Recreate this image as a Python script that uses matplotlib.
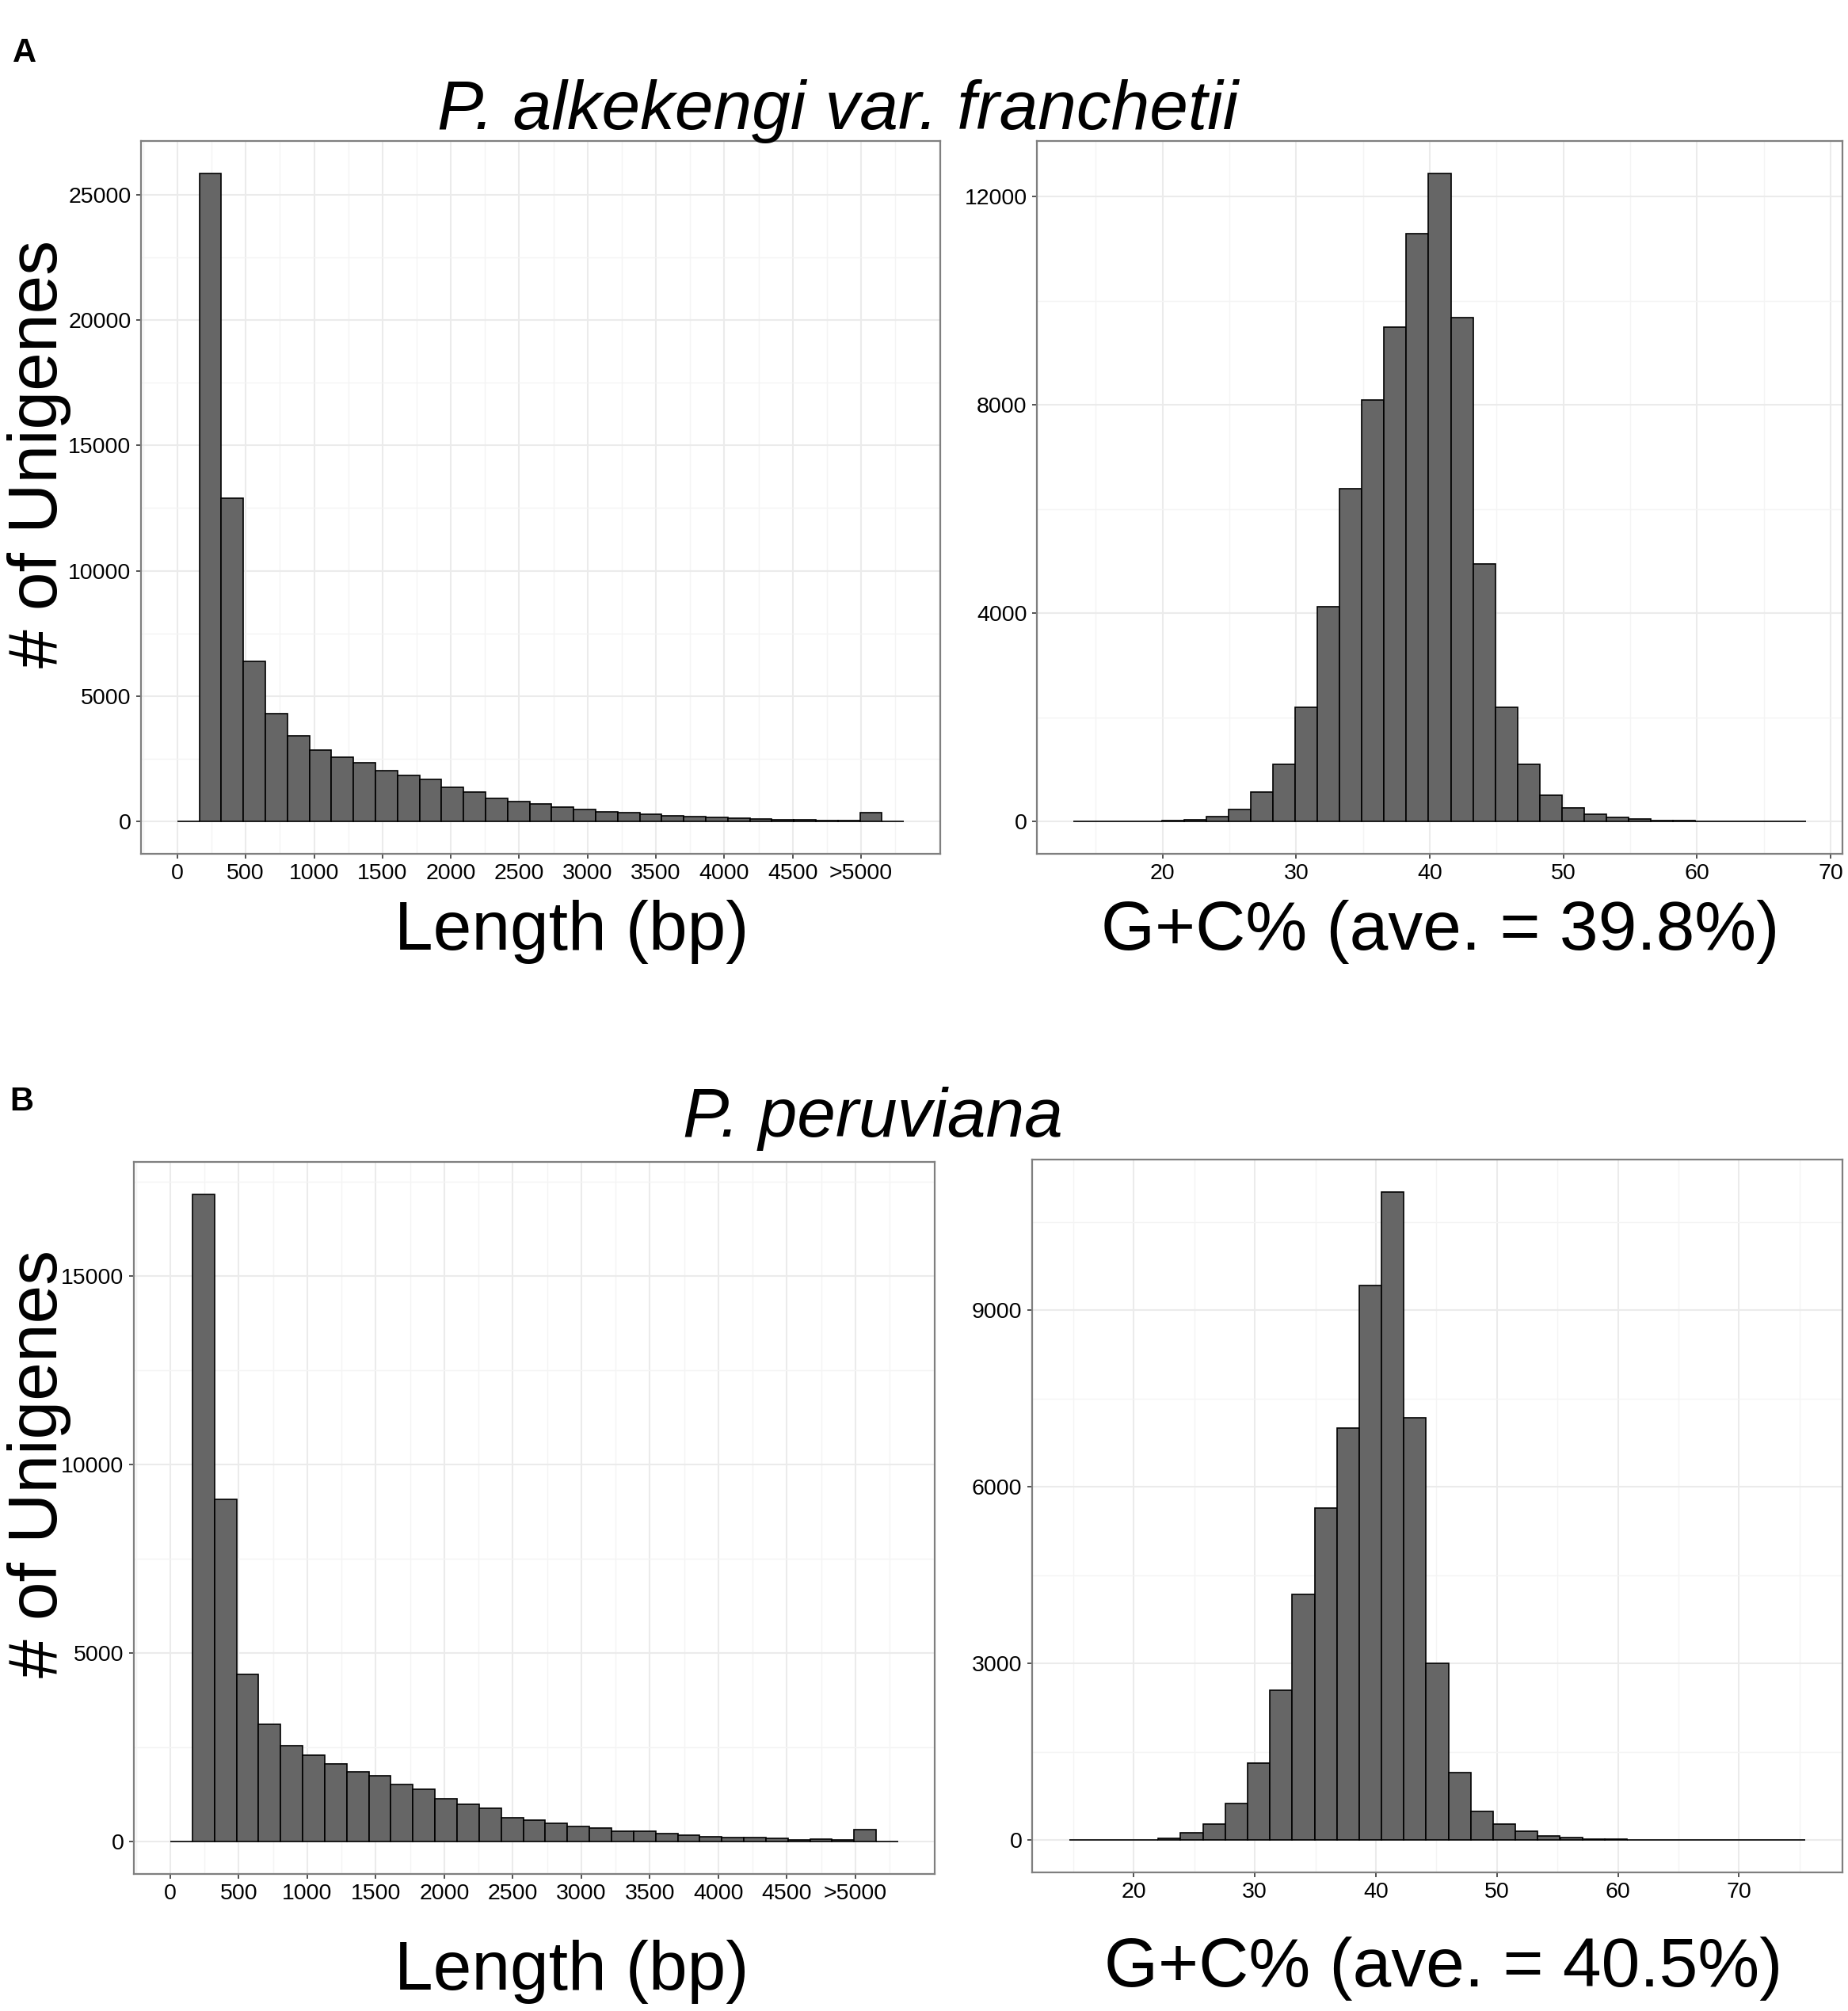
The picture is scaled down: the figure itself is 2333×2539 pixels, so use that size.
import numpy as np
import matplotlib
matplotlib.use("Agg")
from matplotlib import pyplot as plt
from matplotlib.ticker import FixedLocator

# unigene length histograms (bins of ~161 bp starting at 0)
len_bin_start = 0
len_bin_width = 161
len_counts_a = [0, 25850, 12880, 6390, 4300, 3420, 2840, 2570, 2340, 2040, 1840,
                1690, 1360, 1180, 930, 800, 700, 580, 480, 380, 350, 280, 230,
                180, 150, 125, 100, 75, 60, 50, 30, 350, 0]
len_counts_b = [0, 17170, 9080, 4440, 3120, 2550, 2290, 2060, 1860, 1740, 1510,
                1380, 1130, 1000, 880, 630, 560, 480, 400, 350, 280, 280, 215,
                180, 135, 115, 100, 80, 50, 65, 50, 315, 0]
len_ticks = [0, 500, 1000, 1500, 2000, 2500, 3000, 3500, 4000, 4500, 5000]
len_tick_labels = ["0", "500", "1000", "1500", "2000", "2500", "3000", "3500",
                   "4000", "4500", ">5000"]

# G+C content histograms
gc_bin_start_a = 13.33
gc_bin_width_a = 1.661
gc_counts_a = [0, 0, 0, 5, 15, 25, 90, 235, 570, 1090, 2195, 4125, 6385, 8100,
               9495, 11285, 12445, 9670, 4945, 2195, 1100, 500, 255, 145, 80,
               45, 22, 11, 5, 0, 0, 0, 0]
gc_bin_start_b = 14.65
gc_bin_width_b = 1.844
gc_counts_b = [0, 0, 0, 5, 32, 117, 266, 616, 1307, 2540, 4176, 5632, 7002,
               9415, 11008, 7172, 3007, 1148, 489, 266, 149, 74, 43, 20, 8, 4,
               2, 0, 0, 0, 0, 0, 0]
gc_ticks = [20, 30, 40, 50, 60, 70]

yticks_len_a = [0, 5000, 10000, 15000, 20000, 25000]
yticks_gc_a = [0, 4000, 8000, 12000]
yticks_len_b = [0, 5000, 10000, 15000]
yticks_gc_b = [0, 3000, 6000, 9000]

W, H = 2333, 2539


def box(x0, y0, x1, y1):
    return [x0 / W, 1 - y1 / H, (x1 - x0) / W, (y1 - y0) / H]


def minor_between(ticks, step):
    # grid lines half way between the major breaks, plus one on each side
    out = [t + step for t in ticks[:-1]]
    return [ticks[0] - step] + out + [ticks[-1] + step]


def draw_hist(ax, start, width, counts, xticks, xlabels, yticks, xminor, yminor):
    counts = np.array(counts)
    lefts = start + width * np.arange(len(counts))
    ax.bar(lefts, counts, width=width, align='edge', color='#666666',
           edgecolor='black', linewidth=1.2, zorder=3)

    ax.xaxis.set_major_locator(FixedLocator(xticks))
    ax.set_xticklabels(xlabels)
    ax.yaxis.set_major_locator(FixedLocator(yticks))
    ax.set_yticklabels([str(v) for v in yticks])
    ax.xaxis.set_minor_locator(FixedLocator(minor_between(xticks, xminor)))
    ax.yaxis.set_minor_locator(FixedLocator(minor_between(yticks, yminor)))

    # ggplot style 5% expansion, set after the ticks so they do not widen it
    lo = lefts[0]
    hi = lefts[-1] + width
    pad = 0.05 * (hi - lo)
    ax.set_xlim(lo - pad, hi + pad)
    ymax = counts.max()
    ax.set_ylim(-0.05 * ymax, 1.05 * ymax)

    ax.set_axisbelow(True)
    ax.grid(which='major', color='#EBEBEB', linewidth=1.5)
    ax.grid(which='minor', color='#F4F4F4', linewidth=1.0)
    for s in ax.spines.values():
        s.set_color('#7F7F7F')
        s.set_linewidth(1.6)
    ax.tick_params(which='major', direction='out', length=4.5, width=1.2,
                   color='#333333', labelsize=20.5, labelcolor='black')
    ax.tick_params(axis='x', which='major', pad=4)
    ax.tick_params(axis='y', which='major', pad=4.5)
    ax.tick_params(which='minor', length=0)


def main():
    plt.rcParams['font.family'] = ['Liberation Sans', 'DejaVu Sans']
    fig = plt.figure(figsize=(W / 100, H / 100), dpi=100)

    ax1 = fig.add_axes(box(178, 178, 1187, 1078))
    draw_hist(ax1, len_bin_start, len_bin_width, len_counts_a, len_ticks,
              len_tick_labels, yticks_len_a, 250, 2500)
    ax2 = fig.add_axes(box(1309, 178, 2326, 1078))
    draw_hist(ax2, gc_bin_start_a, gc_bin_width_a, gc_counts_a, gc_ticks,
              [str(t) for t in gc_ticks], yticks_gc_a, 5, 2000)
    ax3 = fig.add_axes(box(169, 1467, 1180, 2366))
    draw_hist(ax3, len_bin_start, len_bin_width, len_counts_b, len_ticks,
              len_tick_labels, yticks_len_b, 250, 2500)
    ax4 = fig.add_axes(box(1303, 1464, 2326, 2364))
    draw_hist(ax4, gc_bin_start_b, gc_bin_width_b, gc_counts_b, gc_ticks,
              [str(t) for t in gc_ticks], yticks_gc_b, 5, 1500)

    def txt(x, y, s, **kw):
        fig.text(x / W, 1 - y / H, s, **kw)

    txt(16, 78, "A", fontsize=30, fontweight='bold', va='baseline')
    txt(12, 1402, "B", fontsize=30, fontweight='bold', va='baseline')
    txt(1058, 163, "P. alkekengi var. franchetii", fontsize=63, style='italic',
        ha='center', va='baseline')
    txt(1102, 1435, "P. peruviana", fontsize=63, style='italic',
        ha='center', va='baseline')
    for yc in (573, 1848):
        txt(72, yc, "# of Unigenes", fontsize=63, rotation=90,
            rotation_mode='anchor', ha='center', va='baseline')
    txt(722, 1199, "Length (bp)", fontsize=63, ha='center', va='baseline')
    txt(1818, 1199, "G+C% (ave. = 39.8%)", fontsize=63, ha='center', va='baseline')
    txt(722, 2512, "Length (bp)", fontsize=63, ha='center', va='baseline')
    txt(1822, 2508, "G+C% (ave. = 40.5%)", fontsize=63, ha='center', va='baseline')

    plt.savefig("out.png", dpi=100)


if __name__ == "__main__":
    main()
